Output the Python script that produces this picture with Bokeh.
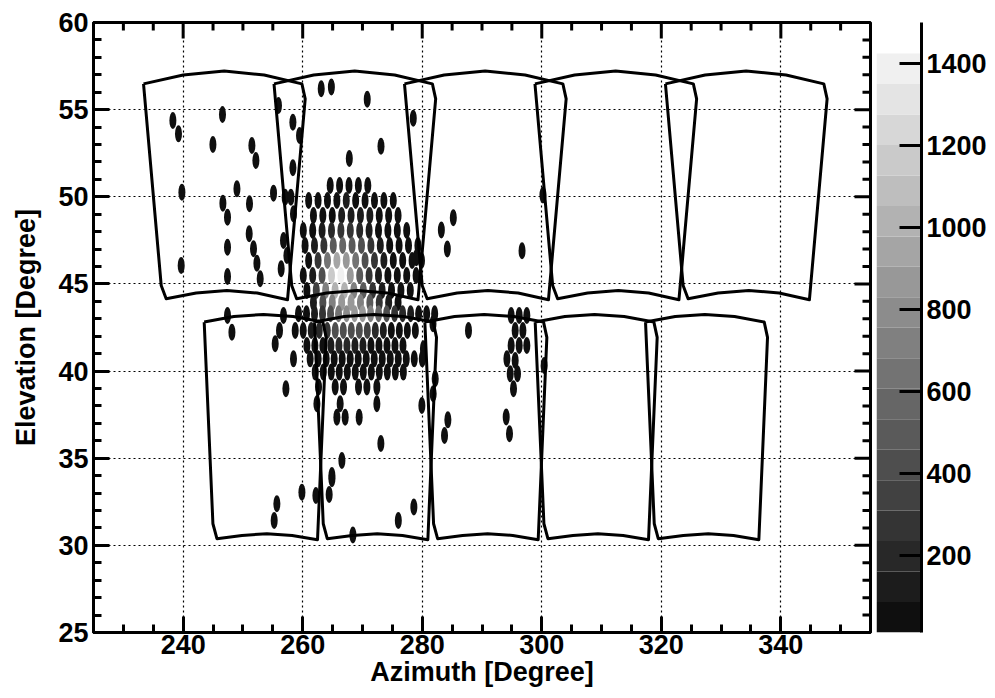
import numpy as np
from bokeh.plotting import figure
from bokeh.layouts import row
from bokeh.models import Range1d, LinearAxis, SingleIntervalTicker, FixedTicker, ColumnDataSource
from bokeh.transform import linear_cmap
from bokeh.embed import file_html
from bokeh.resources import INLINE

# ---------------- data ----------------
AZ_RANGE = (225, 355)
EL_RANGE = (25, 60)
Z_LOW, Z_HIGH = 11.7, 1425.0
CBAR_TOP = 1500.8
CBAR_TICKS = [200, 400, 600, 800, 1000, 1200, 1400]

# camera outline templates (azimuth offset from camera centre, elevation)
upper_cam_daz = [-13.50, -6.86, 0.0, 6.69, 13.00, 13.55, 10.59, 5.52, 0.45, -4.69, -9.71, -10.54]
upper_cam_el = [56.48, 56.99, 57.22, 56.99, 56.48, 55.62, 44.09, 44.48, 44.62, 44.48, 44.15, 44.91]
upper_cam_az0 = [246.87, 268.70, 290.53, 312.36, 334.19]

lower_cam_daz = [-9.92, -4.95, 0.0, 4.97, 9.94, 10.49, 9.04, 4.80, 0.57, -3.61, -7.79, -8.46]
lower_cam_el = [42.81, 43.13, 43.25, 43.13, 42.81, 41.93, 30.32, 30.57, 30.67, 30.57, 30.38, 31.24]
lower_cam_az0 = [253.44, 271.90, 290.36, 308.82, 327.28]

# dense pixel rows: (elevation, first azimuth, signal values)
upper_rows_el = [50.65, 49.79, 48.93, 48.07, 47.21, 46.35, 45.49, 44.63, 43.94]
upper_rows_az0 = [264.6, 261.0, 261.8, 260.1, 260.4, 261.0, 260.1, 260.7, 261.8]
upper_rows_val = [
    [30, 40, 50, 40, 30],
    [30, 40, 60, 80, 90, 80, 60, 40, 30, 30],
    [30, 50, 80, 120, 140, 130, 100, 60, 40, 30],
    [30, 60, 120, 200, 250, 250, 200, 150, 80, 50, 30, 30],
    [40, 120, 300, 500, 600, 500, 400, 250, 120, 60, 40, 30, 30],
    [60, 250, 650, 950, 900, 650, 450, 250, 120, 60, 40, 30, 30],
    [40, 150, 450, 1150, 1400, 850, 500, 250, 120, 60, 40, 30, 30],
    [80, 350, 750, 1050, 1050, 750, 500, 300, 150, 70, 40, 30],
    [150, 450, 700, 850, 850, 700, 500, 300, 150, 60],
]
UPPER_STEP = 1.573

lower_rows_el = [43.29, 42.33, 41.47, 40.70, 39.94]
lower_rows_az0 = [259.3, 258.75, 260.7, 261.25, 262.1]
lower_rows_val = [
    [30, 50, 120, 250, 450, 650, 800, 850, 850, 750, 600, 450, 300, 180, 90, 50, 30, 30],
    [30, 50, 90, 180, 300, 400, 450, 450, 400, 320, 220, 130, 70, 40, 30, 30],
    [30, 50, 80, 130, 170, 180, 160, 120, 80, 50, 30, 30, 30],
    [30, 30, 40, 60, 70, 70, 60, 40, 30, 30, 30, 30, 30, 30, 30],
    [30, 30, 30, 30, 30, 30, 30, 30, 30, 30, 30, 30],
]
LOWER_STEP = 1.34

# isolated pixels
iso_az = [238.28, 239.22, 246.58, 244.98, 251.50, 252.17, 239.79, 249.00, 255.12, 246.65,
          247.42, 251.10, 251.05, 251.77, 247.42, 252.34, 252.89, 247.42, 239.67, 256.79,
          257.36, 256.40, 255.95, 258.36, 259.47, 258.36, 257.07, 258.03, 258.46, 263.10,
          264.80, 270.80, 267.80, 273.10, 278.50, 279.00, 283.20, 285.20, 284.20, 296.70, 300.20,
          247.42, 248.16, 256.79, 256.12, 255.40, 258.46, 257.19, 259.87, 262.21, 264.43,
          264.89, 255.68, 255.23, 287.74, 294.88, 296.22, 297.50, 295.55, 296.84,
          294.88, 296.22, 297.50, 294.17, 295.55, 294.72, 295.94, 295.27, 294.05, 294.60,
          284.29, 283.73, 300.40, 279.94, 281.83, 282.17, 280.20, 281.80, 276.00, 268.40, 278.60,
          262.65, 265.44, 266.83, 269.34, 270.74, 272.41, 262.38, 266.27, 272.41,
          265.72, 267.11, 269.45, 266.56, 273.08, 264.89]
iso_el = [54.38, 53.61, 54.72, 53.00, 52.94, 52.08, 50.26, 50.46, 50.21, 49.63,
          48.83, 49.60, 47.88, 47.02, 47.11, 46.19, 45.30, 45.43, 46.06, 47.49,
          46.63, 45.87, 55.24, 54.28, 53.52, 51.66, 49.98, 49.98, 49.02, 56.20,
          56.30, 55.60, 52.20, 52.90, 54.50, 46.50, 48.10, 48.80, 47.00, 46.90, 50.10,
          43.19, 42.23, 43.19, 42.33, 41.57, 40.70, 38.98, 33.05, 32.86, 32.92,
          33.82, 32.39, 31.43, 42.33, 43.19, 43.19, 43.19, 42.33, 42.33,
          41.47, 41.47, 41.47, 40.70, 40.61, 39.84, 39.84, 38.98, 37.36, 36.40,
          37.20, 36.30, 40.32, 38.03, 38.70, 39.56, 41.28, 42.71, 31.43, 30.60, 32.20,
          39.08, 39.08, 39.08, 39.08, 39.08, 39.08, 38.12, 38.12, 38.12,
          37.35, 37.35, 37.35, 34.87, 35.85, 34.01]
iso_val = [30] * len(iso_az)

# ---------------- build pixel table ----------------
pix_az, pix_el, pix_val = list(iso_az), list(iso_el), list(iso_val)
for el, a0, vals in zip(upper_rows_el, upper_rows_az0, upper_rows_val):
    for i, v in enumerate(vals):
        pix_az.append(a0 + i * UPPER_STEP); pix_el.append(el); pix_val.append(v)
for el, a0, vals in zip(lower_rows_el, lower_rows_az0, lower_rows_val):
    for i, v in enumerate(vals):
        pix_az.append(a0 + i * LOWER_STEP); pix_el.append(el); pix_val.append(v)

N_LEVELS = 19
palette = []
for i in range(N_LEVELS):
    g = int(round(15 + (240 - 15) * i / (N_LEVELS - 1)))
    palette.append("#%02x%02x%02x" % (g, g, g))

FONT = "Liberation Sans"
FS = "27px"

p = figure(width=872, height=698, x_range=Range1d(*AZ_RANGE), y_range=Range1d(*EL_RANGE),
           output_backend="svg", toolbar_location=None,
           min_border_left=93, min_border_right=2, min_border_top=22, min_border_bottom=66,
           x_axis_label="Azimuth [Degree]", y_axis_label="Elevation [Degree]")
p.background_fill_color = "white"
p.border_fill_color = "white"
p.outline_line_color = "black"
p.outline_line_width = 3

xt = SingleIntervalTicker(interval=20, num_minor_ticks=4)
yt = SingleIntervalTicker(interval=5, num_minor_ticks=5)
p.xaxis.ticker = xt
p.yaxis.ticker = yt
p.xgrid.ticker = xt
p.ygrid.ticker = yt
for g in (p.xgrid, p.ygrid):
    g.grid_line_color = "black"
    g.grid_line_dash = "2 3"
    g.grid_line_width = 1.2

for ax in (p.xaxis[0], p.yaxis[0]):
    ax.axis_line_width = 3
    ax.major_tick_in = 16
    ax.major_tick_out = 0
    ax.minor_tick_in = 8
    ax.minor_tick_out = 0
    ax.major_tick_line_width = 3
    ax.minor_tick_line_width = 3
    ax.major_label_text_font = FONT
    ax.major_label_text_font_style = "bold"
    ax.major_label_text_font_size = FS
    ax.major_label_text_color = "black"
    ax.axis_label_text_font = FONT
    ax.axis_label_text_font_style = "bold"
    ax.axis_label_text_font_size = FS
    ax.axis_label_text_color = "black"
p.xaxis.major_label_standoff = 2
p.xaxis.axis_label_standoff = 0
p.yaxis.major_label_standoff = 5
p.yaxis.axis_label_standoff = 14

# mirrored ticks on the top and right frame edges (pixel lengths converted to data units)
PX_EL = (EL_RANGE[1] - EL_RANGE[0]) / 610.0
PX_AZ = (AZ_RANGE[1] - AZ_RANGE[0]) / 777.0
top_major = list(range(240, 355, 20))
top_minor = [a for a in range(230, 355, 5) if a % 20 != 0]
right_major = list(range(30, 60, 5))
right_minor = [e for e in range(26, 60) if e % 5 != 0]
p.segment(x0=top_major, y0=[EL_RANGE[1]] * len(top_major), x1=top_major,
          y1=[EL_RANGE[1] - 16 * PX_EL] * len(top_major), line_color="black", line_width=3)
p.segment(x0=top_minor, y0=[EL_RANGE[1]] * len(top_minor), x1=top_minor,
          y1=[EL_RANGE[1] - 8 * PX_EL] * len(top_minor), line_color="black", line_width=3)
p.segment(x0=[AZ_RANGE[1]] * len(right_major), y0=right_major,
          x1=[AZ_RANGE[1] - 16 * PX_AZ] * len(right_major), y1=right_major,
          line_color="black", line_width=3)
p.segment(x0=[AZ_RANGE[1]] * len(right_minor), y0=right_minor,
          x1=[AZ_RANGE[1] - 8 * PX_AZ] * len(right_minor), y1=right_minor,
          line_color="black", line_width=3)

src = ColumnDataSource(dict(az=pix_az, el=pix_el, val=pix_val))
p.ellipse(x="az", y="el", width=7, height=17, width_units="screen", height_units="screen",
          source=src, line_color=None,
          fill_color=linear_cmap("val", palette, Z_LOW, Z_HIGH))

xs, ys = [], []
for a0 in upper_cam_az0:
    xs.append([a0 + d for d in upper_cam_daz] + [a0 + upper_cam_daz[0]])
    ys.append(list(upper_cam_el) + [upper_cam_el[0]])
for a0 in lower_cam_az0:
    xs.append([a0 + d for d in lower_cam_daz] + [a0 + lower_cam_daz[0]])
    ys.append(list(lower_cam_el) + [lower_cam_el[0]])
p.multi_line(xs, ys, line_color="black", line_width=3, line_join="round")

# ---------------- colour bar ----------------
levels = np.linspace(Z_LOW, Z_HIGH, N_LEVELS + 1)
cb = figure(width=123, height=698, x_range=Range1d(0, 1), y_range=Range1d(Z_LOW, CBAR_TOP),
            output_backend="svg", toolbar_location=None,
            min_border_left=4, min_border_right=74, min_border_top=22, min_border_bottom=65,
            x_axis_location=None, y_axis_location=None)
cb.outline_line_color = None
cb.grid.visible = False
cb.quad(left=0, right=1, bottom=levels[:-1], top=levels[1:], fill_color=palette, line_color=None)
cax = LinearAxis(ticker=FixedTicker(ticks=CBAR_TICKS), axis_line_width=3,
                 major_tick_in=22, major_tick_out=0, minor_tick_in=0, minor_tick_out=0,
                 major_tick_line_width=3, major_label_standoff=5,
                 major_label_text_font=FONT, major_label_text_font_style="bold",
                 major_label_text_font_size=FS, major_label_text_color="black")
cb.add_layout(cax, "right")

layout = row(p, cb)
open("out.html", "w").write(file_html(layout, INLINE))
